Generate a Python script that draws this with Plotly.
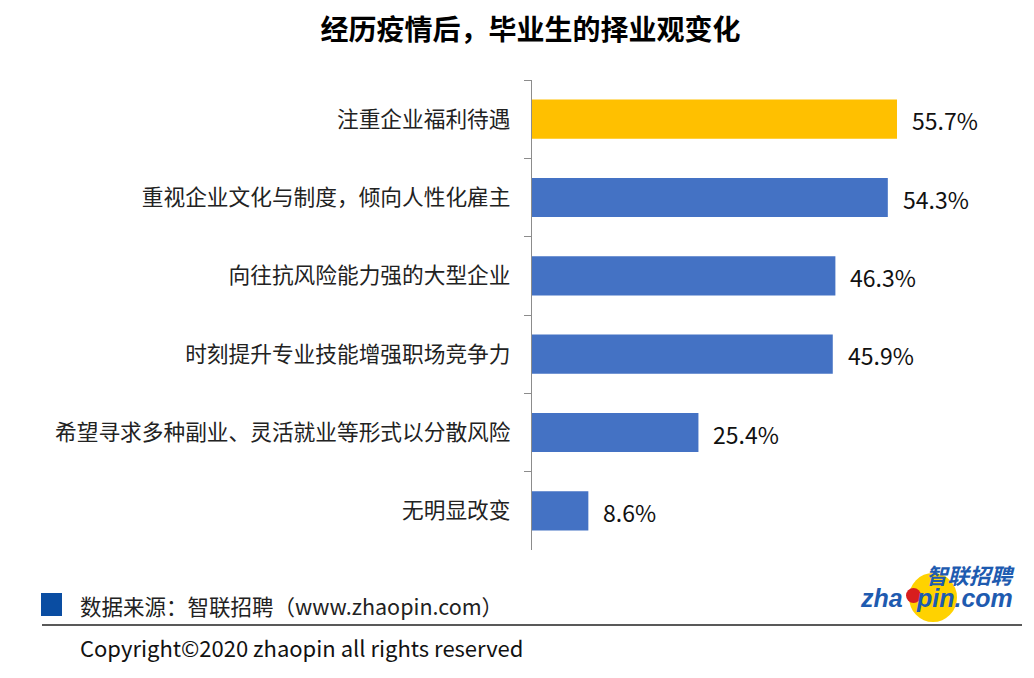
import plotly.graph_objects as go

categories = [
    "注重企业福利待遇",
    "重视企业文化与制度，倾向人性化雇主",
    "向往抗风险能力强的大型企业",
    "时刻提升专业技能增强职场竞争力",
    "希望寻求多种副业、灵活就业等形式以分散风险",
    "无明显改变",
]
values = [55.7, 54.3, 46.3, 45.9, 25.4, 8.6]
value_labels = [f"{v}%" for v in values]
bar_colors = ["#FFC000", "#4472C4", "#4472C4", "#4472C4", "#4472C4", "#4472C4"]

title_text = "经历疫情后，毕业生的择业观变化"
source_text = "数据来源：智联招聘（www.zhaopin.com）"
copyright_text = "Copyright©2020 zhaopin all rights reserved"

FONT = "Noto Sans CJK SC"

fig = go.Figure(
    go.Bar(
        x=values,
        y=categories,
        orientation="h",
        marker=dict(color=bar_colors, line=dict(width=0)),
        cliponaxis=False,
        hoverinfo="skip",
    )
)

for cat, v, lab in zip(categories, values, value_labels):
    fig.add_annotation(x=v, y=cat, xref="x", yref="y", text=lab,
                       xanchor="left", yanchor="middle", xshift=13, yshift=-1,
                       showarrow=False,
                       font=dict(family=FONT, size=23, color="#111111"))

fig.update_layout(
    width=1034,
    height=678,
    margin=dict(l=532, r=34, t=80, b=128),
    paper_bgcolor="white",
    plot_bgcolor="white",
    bargap=0.5,
    showlegend=False,
    title=dict(
        text=f"<b>{title_text}</b>",
        x=0.513,
        xanchor="center",
        y=0.955,
        yanchor="middle",
        font=dict(family=FONT, size=28, color="#000000"),
    ),
    xaxis=dict(
        range=[0, 71.42],
        visible=False,
        fixedrange=True,
    ),
    yaxis=dict(
        type="category",
        autorange="reversed",
        showline=True,
        linecolor="#8c8c8c",
        linewidth=1.3,
        ticks="outside",
        tickson="boundaries",
        ticklen=7,
        tickcolor="#8c8c8c",
        tickwidth=1.3,
        showgrid=False,
        ticklabelstandoff=16,
        tickfont=dict(family=FONT, size=21.7, color="#222222"),
    ),
    font=dict(family=FONT),
)

def px(xp):
    return (xp - 532) / 468

def py(yp):
    return (550 - yp) / 470

# footer: source marker, source text, rule line, copyright
fig.add_shape(type="rect", xref="paper", yref="paper",
              x0=px(41), x1=px(62), y0=py(616), y1=py(593),
              fillcolor="#0A4DA2", line=dict(width=0))
fig.add_annotation(xref="paper", yref="paper", x=px(78), y=py(605),
                   xanchor="left", yanchor="middle", showarrow=False,
                   text=source_text,
                   font=dict(family=FONT, size=21.5, color="#222222"))
fig.add_shape(type="line", xref="paper", yref="paper",
              x0=px(42), x1=px(1022), y0=py(625), y1=py(625),
              line=dict(color="#222222", width=1.3))
fig.add_annotation(xref="paper", yref="paper", x=px(78), y=py(647),
                   xanchor="left", yanchor="middle", showarrow=False,
                   text=copyright_text,
                   font=dict(family=FONT, size=22, color="#111111"))

# logo
fig.add_shape(type="circle", xref="paper", yref="paper",
              x0=px(909), x1=px(957), y0=py(622), y1=py(573),
              fillcolor="#FFD200", line=dict(width=0))
fig.add_shape(type="circle", xref="paper", yref="paper",
              x0=px(906), x1=px(921), y0=py(603), y1=py(588),
              fillcolor="#D81E1E", line=dict(width=0))
fig.add_annotation(xref="paper", yref="paper", x=px(1018), y=py(574),
                   xanchor="right", yanchor="middle", showarrow=False,
                   text="<b><i>智联招聘</i></b>",
                   font=dict(family=FONT, size=21.5, color="#1E5BB0"))
fig.add_annotation(xref="paper", yref="paper", x=px(905), y=py(598),
                   xanchor="right", yanchor="middle", showarrow=False,
                   text="<b><i>zha</i></b>",
                   font=dict(family="Liberation Sans", size=25, color="#1E5BB0"))
fig.add_annotation(xref="paper", yref="paper", x=px(1015), y=py(598),
                   xanchor="right", yanchor="middle", showarrow=False,
                   text="<b><i>pin.com</i></b>",
                   font=dict(family="Liberation Sans", size=25, color="#1E5BB0"))

fig.write_html("out.html", config={"displayModeBar": False},
               post_script="document.body.style.margin='0px';")
